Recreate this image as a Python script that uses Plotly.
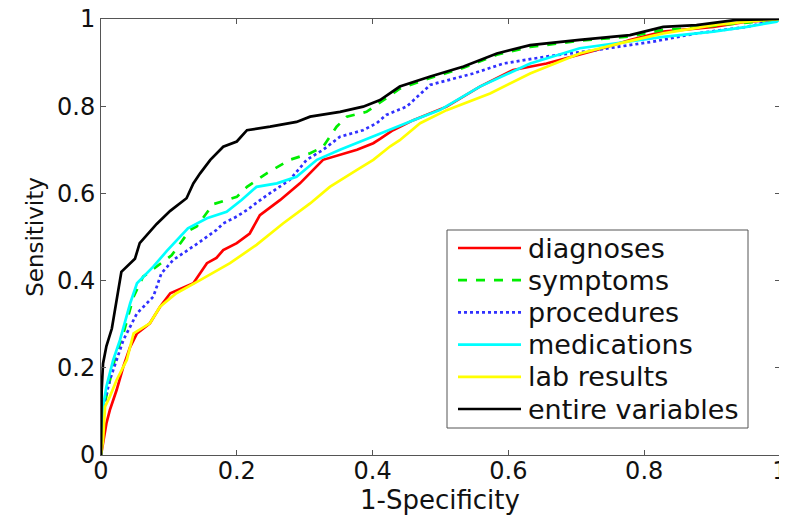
import plotly.graph_objects as go

# ---------------- data ----------------
series_names = ["diagnoses", "symptoms", "procedures", "medications", "lab results", "entire variables"]
series_colors = ["#ff0000", "#00ee00", "#3030ff", "#00ffff", "#ffff00", "#000000"]
series_dash = ["solid", "dash", "dot", "solid", "solid", "solid"]

diag_x = [0, 0.004, 0.008, 0.013, 0.023, 0.033, 0.043, 0.053, 0.072, 0.087, 0.102, 0.136, 0.156, 0.170, 0.180, 0.200,
          0.219, 0.234, 0.264, 0.293, 0.318, 0.327, 0.377, 0.401, 0.411, 0.430, 0.460, 0.509, 0.558, 0.607, 0.656,
          0.730, 0.779, 0.828, 0.902, 0.951, 0.995, 1]
diag_y = [0, 0.040, 0.073, 0.103, 0.149, 0.203, 0.248, 0.279, 0.302, 0.340, 0.371, 0.394, 0.440, 0.452, 0.470, 0.486,
          0.508, 0.550, 0.585, 0.623, 0.661, 0.677, 0.700, 0.715, 0.725, 0.745, 0.768, 0.799, 0.845, 0.883, 0.898,
          0.929, 0.952, 0.971, 0.982, 0.994, 0.998, 1]

symp_x = [0, 0.003, 0.011, 0.021, 0.033, 0.048, 0.062, 0.080, 0.104, 0.131, 0.141, 0.165, 0.200, 0.215, 0.244, 0.278,
          0.308, 0.327, 0.347, 0.362, 0.391, 0.416, 0.440, 0.485, 0.534, 0.583, 0.632, 0.705, 0.779, 0.828, 0.877,
          0.936, 0.985, 1]
symp_y = [0, 0.100, 0.157, 0.225, 0.279, 0.363, 0.409, 0.430, 0.458, 0.516, 0.524, 0.575, 0.592, 0.615, 0.646, 0.677,
          0.692, 0.707, 0.753, 0.776, 0.787, 0.814, 0.840, 0.865, 0.888, 0.918, 0.936, 0.950, 0.960, 0.975, 0.980,
          0.990, 0.996, 1]

proc_x = [0, 0.002, 0.006, 0.013, 0.023, 0.033, 0.053, 0.077, 0.089, 0.106, 0.143, 0.170, 0.180, 0.200, 0.215, 0.239,
          0.278, 0.303, 0.327, 0.352, 0.386, 0.406, 0.420, 0.450, 0.485, 0.548, 0.593, 0.656, 0.730, 0.813, 0.877,
          0.951, 0.995, 1]
proc_y = [0, 0.080, 0.126, 0.172, 0.218, 0.264, 0.325, 0.363, 0.417, 0.447, 0.486, 0.516, 0.531, 0.547, 0.562, 0.590,
          0.631, 0.677, 0.700, 0.730, 0.745, 0.761, 0.780, 0.799, 0.849, 0.875, 0.898, 0.914, 0.929, 0.948, 0.967,
          0.982, 0.998, 1]

medi_x = [0, 0.001, 0.003, 0.008, 0.018, 0.028, 0.043, 0.053, 0.077, 0.097, 0.128, 0.156, 0.185, 0.207, 0.229, 0.259,
          0.288, 0.318, 0.352, 0.377, 0.406, 0.460, 0.499, 0.558, 0.632, 0.705, 0.779, 0.828, 0.902, 0.951, 0.995, 1]
medi_y = [0, 0.060, 0.111, 0.157, 0.218, 0.264, 0.348, 0.394, 0.432, 0.468, 0.520, 0.543, 0.558, 0.585, 0.615, 0.623,
          0.638, 0.677, 0.700, 0.715, 0.734, 0.768, 0.791, 0.845, 0.898, 0.933, 0.948, 0.959, 0.971, 0.982, 0.994, 1]

lab_x = [0, 0.003, 0.006, 0.013, 0.023, 0.038, 0.048, 0.072, 0.087, 0.111, 0.146, 0.190, 0.229, 0.268, 0.308, 0.337,
         0.377, 0.401, 0.426, 0.440, 0.470, 0.509, 0.573, 0.632, 0.705, 0.764, 0.828, 0.902, 0.951, 1]
lab_y = [0, 0.034, 0.111, 0.134, 0.172, 0.218, 0.279, 0.302, 0.340, 0.371, 0.401, 0.440, 0.482, 0.531, 0.577, 0.615,
         0.654, 0.677, 0.708, 0.722, 0.761, 0.791, 0.829, 0.875, 0.921, 0.944, 0.967, 0.986, 0.994, 1]

all_x = [0, 0.001, 0.003, 0.008, 0.016, 0.023, 0.030, 0.050, 0.057, 0.082, 0.102, 0.126, 0.136, 0.146, 0.161, 0.180,
         0.200, 0.215, 0.249, 0.288, 0.308, 0.352, 0.386, 0.411, 0.440, 0.485, 0.534, 0.583, 0.632, 0.705, 0.779,
         0.828, 0.877, 0.936, 0.985, 1]
all_y = [0, 0.150, 0.210, 0.250, 0.290, 0.360, 0.420, 0.450, 0.486, 0.530, 0.560, 0.589, 0.623, 0.646, 0.677, 0.707,
         0.719, 0.745, 0.753, 0.764, 0.776, 0.787, 0.799, 0.814, 0.845, 0.868, 0.891, 0.921, 0.940, 0.952, 0.963,
         0.982, 0.986, 0.998, 0.999, 1]

tick_vals = [0, 0.2, 0.4, 0.6, 0.8, 1]
tick_text = ["0", "0.2", "0.4", "0.6", "0.8", "1"]
x_title = "1-Specificity"
y_title = "Sensitivity"

series_x = [diag_x, symp_x, proc_x, medi_x, lab_x, all_x]
series_y = [diag_y, symp_y, proc_y, medi_y, lab_y, all_y]

# ---------------- figure ----------------
# The page body has an 8px default margin, so the figure is sized to fit the window.
OFF = 8
W, H = 787 - OFF, 523 - OFF
# target plot area in window pixels: x 101..780, y 19..455
ML, MT = 101 - OFF, 19 - OFF
MR = W - (780 - OFF)
MB = H - (455 - OFF)
FONT = "DejaVu Sans"
AXC = "#555555"
TXT = "#111111"

fig = go.Figure()
for name, col, dash, xs, ys in zip(series_names, series_colors, series_dash, series_x, series_y):
    fig.add_trace(go.Scatter(x=xs, y=ys, mode="lines", name=name,
                             line=dict(color=col, width=2.7, dash=dash), showlegend=False))

pw, ph = W - ML - MR, H - MT - MB
def px2x(p):  # window pixel -> paper x
    return (p - OFF - ML) / pw
def py2y(p):  # window pixel -> paper y
    return (H - MB - (p - OFF)) / ph

# custom legend (MATLAB style box)
box_l, box_r, box_t, box_b = 447, 748, 230, 428
shapes = [dict(type="rect", xref="paper", yref="paper", x0=px2x(box_l), x1=px2x(box_r),
               y0=py2y(box_b), y1=py2y(box_t), line=dict(color=AXC, width=1), fillcolor="white", layer="above")]
annotations = []
row0, rstep = 248, 32.2
for i, (name, col, dash) in enumerate(zip(series_names, series_colors, series_dash)):
    yy = py2y(row0 + i * rstep)
    shapes.append(dict(type="line", xref="paper", yref="paper", x0=px2x(458), x1=px2x(521), y0=yy, y1=yy,
                       line=dict(color=col, width=2.7, dash=dash), layer="above"))
    annotations.append(dict(xref="paper", yref="paper", x=px2x(526), y=yy, text=name, showarrow=False,
                            xanchor="left", yanchor="middle", font=dict(family=FONT, size=27, color=TXT)))

# x axis title placed under the tick labels
annotations.append(dict(xref="paper", yref="paper", x=px2x(440), y=py2y(500), text=x_title, showarrow=False,
                        xanchor="center", yanchor="middle", font=dict(family=FONT, size=26, color=TXT)))

axis_common = dict(range=[0, 1], tickvals=tick_vals, ticktext=tick_text, ticks="inside", ticklen=5,
                   tickcolor=AXC, showline=True, linecolor=AXC, linewidth=1, mirror="ticks", automargin=False,
                   ticklabeloverflow="allow",
                   showgrid=False, zeroline=False, tickfont=dict(family=FONT, size=24, color=TXT))

fig.update_layout(
    width=W, height=H, margin=dict(l=ML, r=MR, t=MT, b=MB),
    paper_bgcolor="white", plot_bgcolor="white",
    xaxis=dict(**axis_common, ticklabelstandoff=-6),
    yaxis=dict(**axis_common,
               title=dict(text=y_title, font=dict(family=FONT, size=23, color=TXT), standoff=6)),
    shapes=shapes, annotations=annotations, showlegend=False,
)

fig.write_html("out.html")
